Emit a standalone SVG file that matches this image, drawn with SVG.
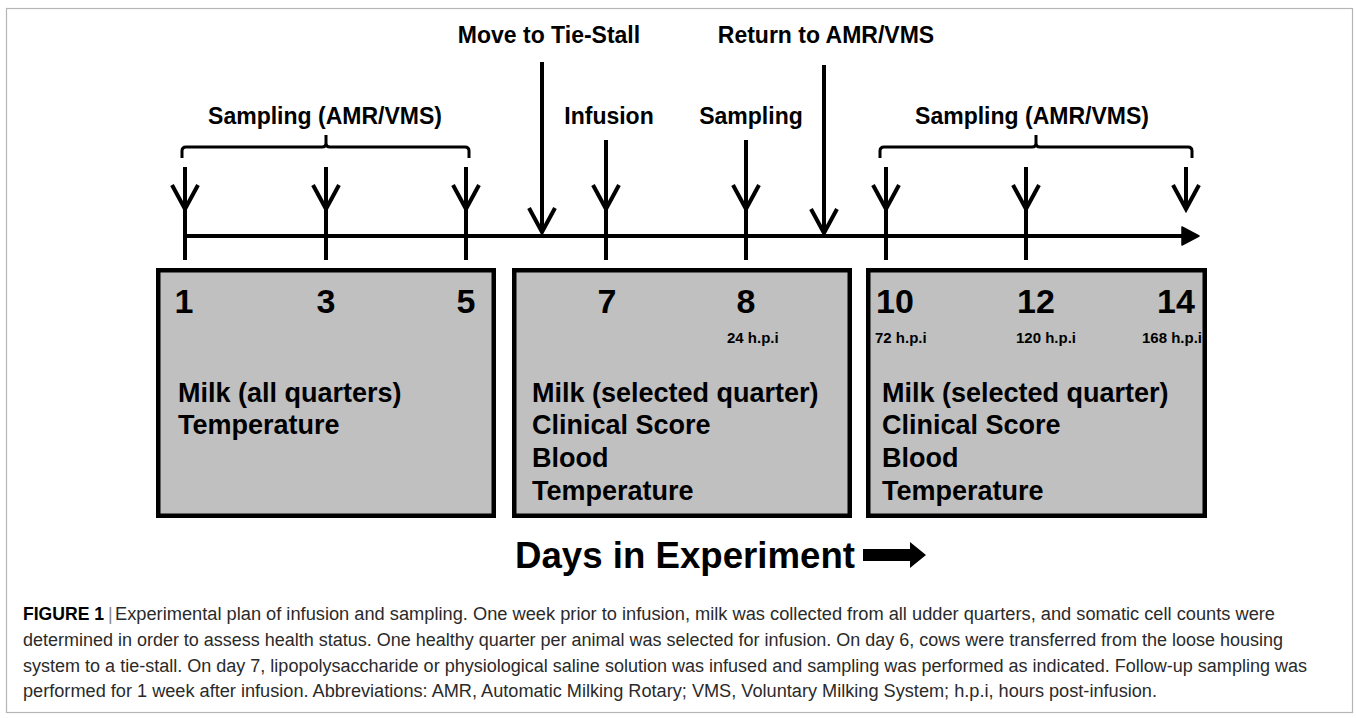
<svg xmlns="http://www.w3.org/2000/svg" width="1356" height="718" viewBox="0 0 1356 718">
<defs>
<style>
.lbl{font-family:"Liberation Sans",Arial,sans-serif;font-weight:bold;fill:#000}
.top{font-size:23px;text-anchor:middle}
.day{font-size:34px;text-anchor:middle}
.hpi{font-size:15px}
.item{font-size:27px}
.box{fill:#c0c0c0;stroke:#000;stroke-width:4.5}
.ln{stroke:#000;stroke-width:4;fill:none}
.br{stroke:#000;stroke-width:3;fill:none;stroke-linecap:butt}
.cap{font-family:"Liberation Sans",Arial,sans-serif;font-size:18px;fill:#2a2a2a}
</style>
<marker id="vhead" markerUnits="userSpaceOnUse" viewBox="-4 -4 32 34" markerWidth="32" markerHeight="34" refX="24" refY="13" orient="auto" overflow="visible">
<path d="M0,0 L24,13 L0,26" fill="none" stroke="#000" stroke-width="4"/>
</marker>
<marker id="tri" markerUnits="userSpaceOnUse" viewBox="0 0 18 20" markerWidth="18" markerHeight="20" refX="2" refY="10" orient="auto" overflow="visible">
<path d="M0,1 L17,10 L0,19 Z" fill="#000" stroke="#000" stroke-width="1.5" stroke-linejoin="round"/>
</marker>
</defs>
<rect x="0" y="0" width="1356" height="718" fill="#fff"/>
<rect id="frame" x="6.5" y="8.5" width="1346" height="704" fill="#fff" stroke="#b5b5b5" stroke-width="1.2"/>

<g id="connectors">
<line id="timeline" class="ln" x1="185" y1="236" x2="1184" y2="236" marker-end="url(#tri)"/>
<line class="ln" x1="542" y1="62" x2="542" y2="232" marker-end="url(#vhead)"/>
<line class="ln" x1="824" y1="65" x2="824" y2="233" marker-end="url(#vhead)"/>
<line class="ln" x1="185" y1="167" x2="185" y2="209" marker-end="url(#vhead)"/>
<line class="ln" x1="326" y1="167" x2="326" y2="209" marker-end="url(#vhead)"/>
<line class="ln" x1="466" y1="167" x2="466" y2="209" marker-end="url(#vhead)"/>
<line class="ln" x1="606" y1="140" x2="606" y2="209" marker-end="url(#vhead)"/>
<line class="ln" x1="746" y1="140" x2="746" y2="209" marker-end="url(#vhead)"/>
<line class="ln" x1="886" y1="167" x2="886" y2="209" marker-end="url(#vhead)"/>
<line class="ln" x1="1026" y1="167" x2="1026" y2="209" marker-end="url(#vhead)"/>
<line class="ln" x1="1186" y1="167" x2="1186" y2="209" marker-end="url(#vhead)"/>
<g id="ticks">
<line class="ln" x1="185" y1="209" x2="185" y2="260"/>
<line class="ln" x1="326" y1="209" x2="326" y2="260"/>
<line class="ln" x1="466" y1="209" x2="466" y2="260"/>
<line class="ln" x1="606" y1="209" x2="606" y2="260"/>
<line class="ln" x1="746" y1="209" x2="746" y2="260"/>
<line class="ln" x1="886" y1="209" x2="886" y2="260"/>
<line class="ln" x1="1026" y1="209" x2="1026" y2="260"/>
</g>
<path id="bracket-left" class="br" d="M182,158 V151 Q182,147 186,147 H322 Q326,147 326,143 V135 M326,143 Q326,147 330,147 H465 Q469,147 469,151 V158"/>
<path id="bracket-right" class="br" d="M880,158 V151 Q880,147 884,147 H1032 Q1036,147 1036,143 V135 M1036,143 Q1036,147 1040,147 H1188 Q1192,147 1192,151 V158"/>
</g>

<g id="event-labels" class="lbl top">
<text x="549" y="43">Move to Tie-Stall</text>
<text x="826" y="43">Return to AMR/VMS</text>
<text x="325" y="124">Sampling (AMR/VMS)</text>
<text x="609" y="124">Infusion</text>
<text x="751" y="124">Sampling</text>
<text x="1032" y="124">Sampling (AMR/VMS)</text>
</g>

<g id="box1">
<rect class="box" x="158.25" y="270.25" width="335.5" height="245.5"/>
<g class="lbl day"><text x="184" y="313">1</text><text x="326" y="313">3</text><text x="466" y="313">5</text></g>
<g class="lbl item"><text x="178" y="402">Milk (all quarters)</text><text x="178" y="434">Temperature</text></g>
</g>

<g id="box2">
<rect class="box" x="514.25" y="270.25" width="335.5" height="245.5"/>
<g class="lbl day"><text x="607" y="313">7</text><text x="746" y="313">8</text></g>
<text class="lbl hpi" x="727" y="343">24 h.p.i</text>
<g class="lbl item"><text x="532" y="402">Milk (selected quarter)</text><text x="532" y="434">Clinical Score</text><text x="532" y="467">Blood</text><text x="532" y="500">Temperature</text></g>
</g>

<g id="box3">
<rect class="box" x="868.25" y="270.25" width="336.5" height="245.5"/>
<g class="lbl day"><text x="895" y="313">10</text><text x="1036" y="313">12</text><text x="1176" y="313">14</text></g>
<g class="lbl hpi"><text x="875" y="343">72 h.p.i</text><text x="1016" y="343">120 h.p.i</text><text x="1142" y="343">168 h.p.i</text></g>
<g class="lbl item"><text x="882" y="402">Milk (selected quarter)</text><text x="882" y="434">Clinical Score</text><text x="882" y="467">Blood</text><text x="882" y="500">Temperature</text></g>
</g>

<g id="axis-label">
<text class="lbl" x="515" y="568" font-size="36" textLength="340" lengthAdjust="spacingAndGlyphs">Days in Experiment</text>
<polygon points="863,549 910,549 910,542 926,555 910,568 910,561 863,561" fill="#000"/>
</g>

<g id="caption" class="cap">
<text x="23" y="620" font-weight="bold" fill="#000" textLength="81" lengthAdjust="spacingAndGlyphs">FIGURE 1</text>
<text x="108" y="620" fill="#888">|</text>
<text x="115" y="620" textLength="1160" lengthAdjust="spacingAndGlyphs">Experimental plan of infusion and sampling. One week prior to infusion, milk was collected from all udder quarters, and somatic cell counts were</text>
<text x="23" y="646" textLength="1260" lengthAdjust="spacingAndGlyphs">determined in order to assess health status. One healthy quarter per animal was selected for infusion. On day 6, cows were transferred from the loose housing</text>
<text x="23" y="672" textLength="1284" lengthAdjust="spacingAndGlyphs">system to a tie-stall. On day 7, lipopolysaccharide or physiological saline solution was infused and sampling was performed as indicated. Follow-up sampling was</text>
<text x="23" y="697" textLength="1134" lengthAdjust="spacingAndGlyphs">performed for 1 week after infusion. Abbreviations: AMR, Automatic Milking Rotary; VMS, Voluntary Milking System; h.p.i, hours post-infusion.</text>
</g>
</svg>
